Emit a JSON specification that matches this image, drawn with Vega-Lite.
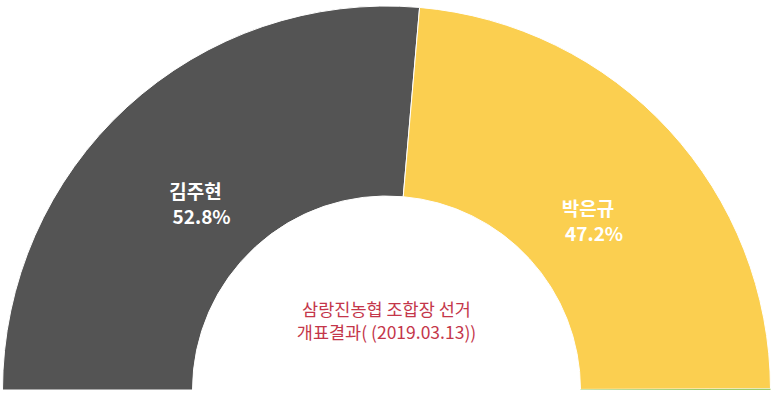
{
  "$schema": "https://vega.github.io/schema/vega-lite/v6.json",
  "width": 773,
  "height": 417,
  "autosize": {"type": "fit", "contains": "padding"},
  "padding": 0,
  "background": "white",
  "view": {"stroke": null},
  "layer": [
    {
      "data": {"values": [
        {"candidate": "김주현", "share": 52.8, "order": 1, "pct": "52.8%"},
        {"candidate": "박은규", "share": 47.2, "order": 2, "pct": "47.2%"},
        {"candidate": "기타", "share": 0.1, "order": 3, "pct": ""}
      ]},
      "encoding": {
        "theta": {"field": "share", "type": "quantitative", "stack": true, "scale": {"range": [-1.5708, 1.5708]}},
        "order": {"field": "order", "type": "quantitative"}
      },
      "layer": [
        {
          "mark": {"type": "arc", "innerRadius": 194, "outerRadius": 384, "x": {"expr": "width/2"}, "y": {"expr": "height-27"}, "stroke": "white"},
          "encoding": {
            "color": {"field": "candidate", "type": "nominal", "legend": null,
              "scale": {"domain": ["김주현", "박은규", "기타"], "range": ["#545454", "#FBCF50", "#9CCB6B"]}},
            "strokeWidth": {"condition": {"test": "datum.order == 3", "value": 0}, "value": 1}
          }
        },
        {
          "transform": [{"filter": "datum.order < 3"}],
          "mark": {"type": "text", "radius": 278, "x": {"expr": "width/2"}, "y": {"expr": "height-27"}, "dx": -3, "dy": 8, "fontSize": 19, "fontWeight": "bold", "font": "Noto Sans CJK KR", "fill": "white", "align": "center", "baseline": "middle"},
          "encoding": {"text": {"field": "candidate"}}
        },
        {
          "transform": [{"filter": "datum.order < 3"}],
          "mark": {"type": "text", "radius": 278, "x": {"expr": "width/2"}, "y": {"expr": "height-27"}, "dx": 3, "dy": 33, "fontSize": 19, "fontWeight": "bold", "font": "Noto Sans CJK KR", "fill": "white", "align": "center", "baseline": "middle"},
          "encoding": {"text": {"field": "pct"}}
        }
      ]
    },
    {
      "data": {"values": [{"title": ["삼랑진농협 조합장 선거", "개표결과( (2019.03.13))"]}]},
      "mark": {"type": "text", "x": {"expr": "width/2"}, "y": {"expr": "height-27"}, "dy": -79, "fontSize": 17.5, "lineHeight": 22.5, "font": "Noto Sans CJK KR", "fill": "#C4364A", "align": "center", "baseline": "middle"},
      "encoding": {"text": {"field": "title"}}
    }
  ]
}
